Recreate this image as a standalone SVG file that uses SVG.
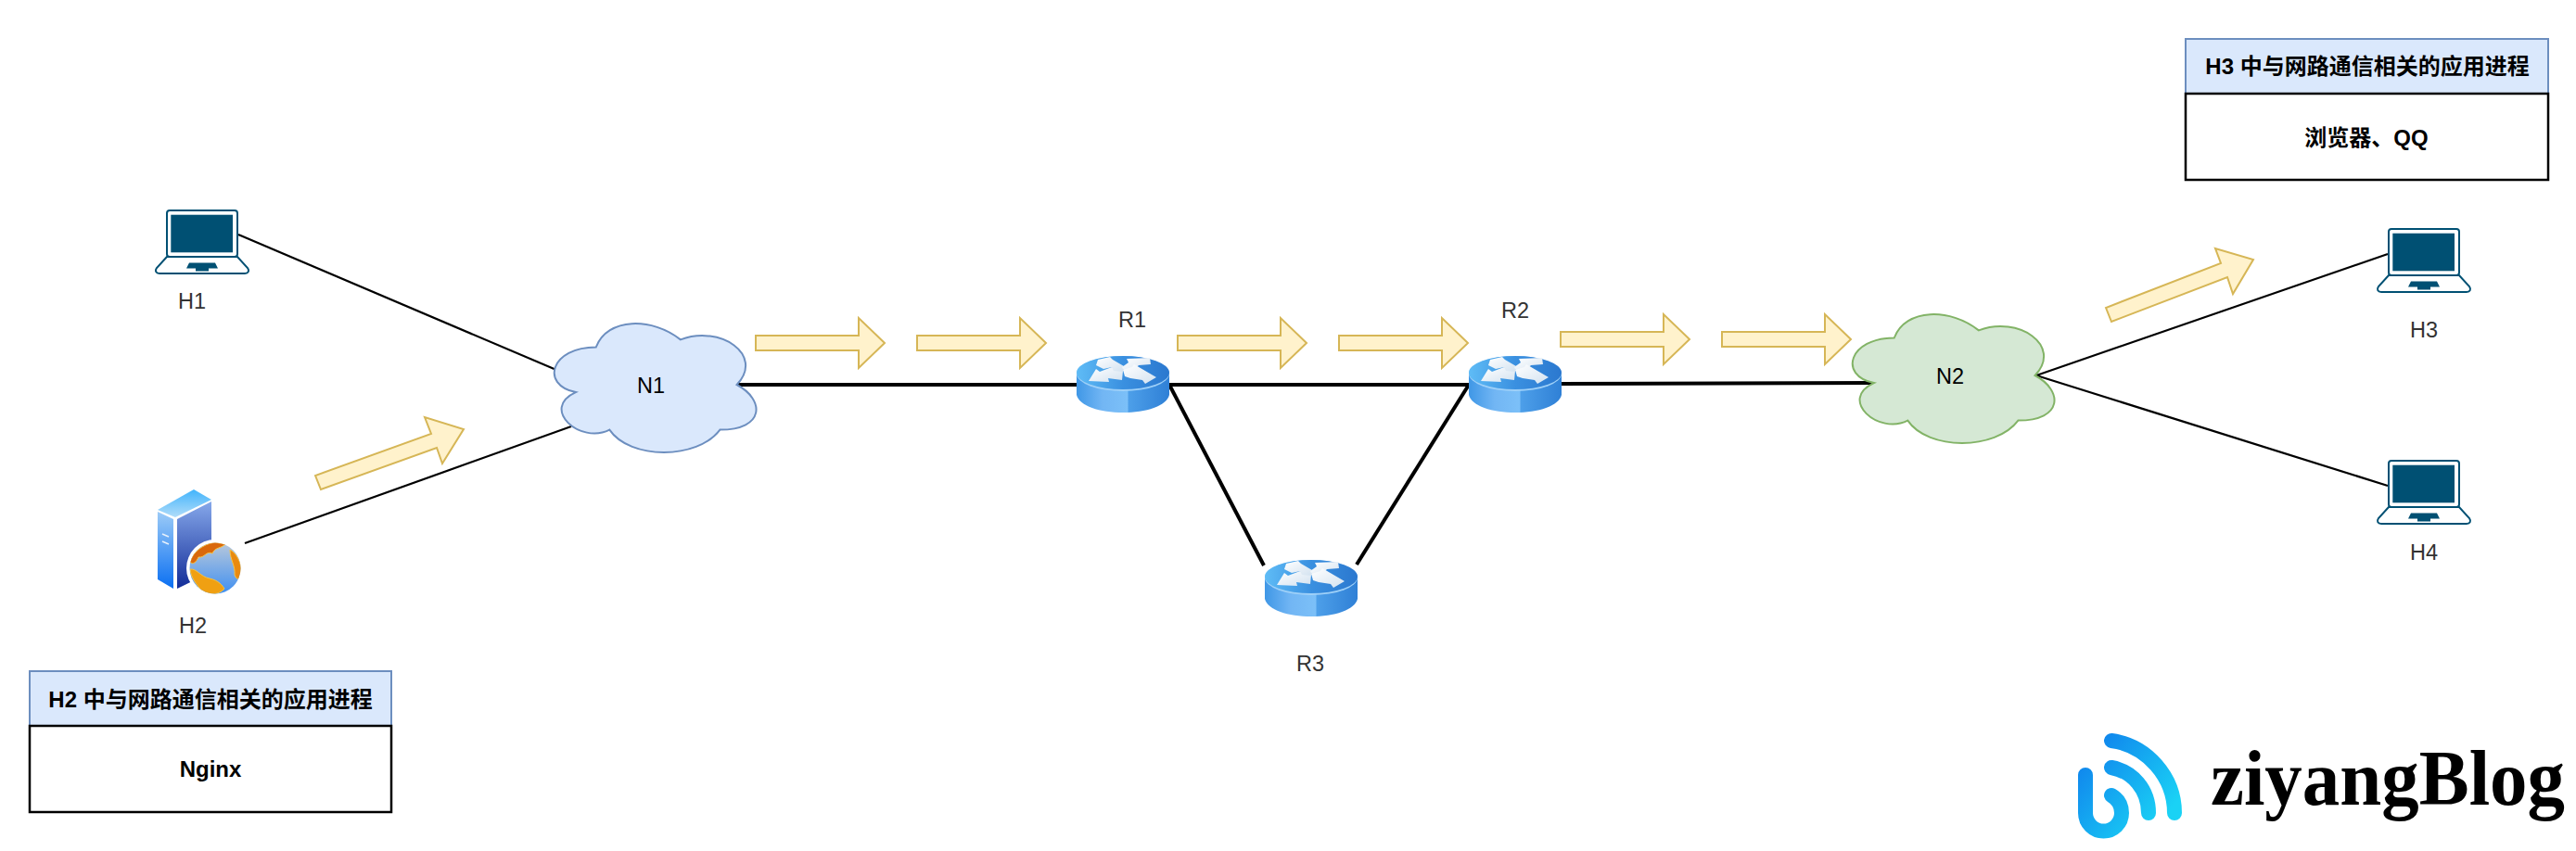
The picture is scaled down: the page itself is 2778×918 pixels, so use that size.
<svg xmlns="http://www.w3.org/2000/svg" width="2778" height="918" viewBox="0 0 2778 918">
<style>
text{font-family:"Liberation Sans","Noto Sans CJK SC",sans-serif;text-anchor:middle}
.lb{font-size:23.5px;fill:#333}
.nt{font-size:23.5px;fill:#000}
.tb{font-size:24px;font-weight:bold;fill:#000}
.thin{stroke:#000;stroke-width:2.2;fill:none}
.thick{stroke:#000;stroke-width:4;fill:none}
.flow{fill:#fff2cc;stroke:#d6b656;stroke-width:2}
.head{fill:#dae8fc;stroke:#6c8ebf;stroke-width:2}
.body{fill:#fff;stroke:#000;stroke-width:2.5}
.lap{fill:#fff;stroke:#005073;stroke-width:2}
.scr{fill:#005073}
.logo{fill:none;stroke:url(#lg);stroke-width:16;stroke-linecap:round}
</style>
<defs>
<path id="cloud" d="M60.75 40.5C12.15 40.5 0 81 38.88 89.1C0 106.92 43.74 145.8 75.33 129.6C97.2 162 170.1 162 194.4 129.6C243 129.6 243 97.2 212.6 81C243 48.6 194.4 16.2 151.9 32.4C121.5 8.1 72.9 8.1 60.75 40.5Z"/>
<path id="flowh" d="M0 -8H111V-27L139 0L111 27V8H0Z"/>
<linearGradient id="rSide" x1="0" x2="1" y1="0" y2="0"><stop offset="0" stop-color="#3f97e6"/><stop offset=".28" stop-color="#72b6f4"/><stop offset=".55" stop-color="#7cc0f8"/><stop offset=".56" stop-color="#4d9fe9"/><stop offset="1" stop-color="#2f80d6"/></linearGradient>
<linearGradient id="rTop" x1="0" x2="1" y1="0" y2="0"><stop offset="0" stop-color="#5fbcf6"/><stop offset=".5" stop-color="#3a90e0"/><stop offset="1" stop-color="#2b78cf"/></linearGradient>
<linearGradient id="rArr" x1="0" x2="1" y1="0" y2="1"><stop offset="0" stop-color="#fff"/><stop offset="1" stop-color="#d3e2f0"/></linearGradient>
<g id="router">
<path d="M0 18V42C3 54 25 61 50 61C75 61 97 54 100 42V18Z" fill="url(#rSide)"/>
<ellipse cx="50" cy="19" rx="50" ry="19" fill="#9ed0f8"/>
<ellipse cx="50" cy="18" rx="50" ry="18" fill="url(#rTop)"/>
<g fill="url(#rArr)">
<polygon points="13,27 21,14 25,17 38,12 50,16 49,26 34,24 35,28"/>
<polygon points="23,4 36,1 39,4 51,11 50,17 40,16 38,12 29,14 21,10"/>
<polygon points="49,12 56,7 54,3 79,2 80,9 67,10 63,14 52,18"/>
<polygon points="50,15 60,12 62,9 86,23 74,30 71,26 58,24 52,22"/>
</g>
</g>
<g id="laptop">
<path class="lap" d="M12 50L1 62C-1 65 0 68 4 68H96C100 68 101 65 99 62L88 50Z"/>
<rect class="lap" x="12" y="0" width="76" height="50" rx="3"/>
<rect class="scr" x="16.3" y="4.7" width="66.7" height="40.6"/>
<path class="scr" d="M36 56.5H64L67 62.5H57V65.5H43V62.5H33Z"/>
</g>
<linearGradient id="lg" gradientUnits="userSpaceOnUse" x1="2245" y1="805" x2="2335" y2="880"><stop offset="0" stop-color="#0f7fec"/><stop offset="1" stop-color="#1ad2f5"/></linearGradient>
<linearGradient id="sL" x1="0" x2="0" y1="0" y2="1"><stop offset="0" stop-color="#9ccbf7"/><stop offset="1" stop-color="#0a6ff2"/></linearGradient>
<linearGradient id="sR" x1="0" x2="0" y1="0" y2="1"><stop offset="0" stop-color="#86a8ea"/><stop offset="1" stop-color="#122c98"/></linearGradient>
<linearGradient id="sT" x1="0" x2="0" y1="0" y2="1"><stop offset="0" stop-color="#42b4fc"/><stop offset="1" stop-color="#b0dcf9"/></linearGradient>
<linearGradient id="gl" x1="0" x2="0" y1="0" y2="1"><stop offset="0" stop-color="#b8c8dc"/><stop offset="1" stop-color="#3f8ff0"/></linearGradient>
<clipPath id="gc"><circle cx="232" cy="613" r="27.5"/></clipPath>
</defs>
<rect width="2778" height="918" fill="#fff"/>
<g id="connectors">
<line class="thin" x1="257" y1="253" x2="600" y2="399"/>
<line class="thin" x1="264" y1="586" x2="616" y2="460"/>
<line class="thick" x1="793" y1="415" x2="1161" y2="415"/>
<line class="thick" x1="1261" y1="415" x2="1584" y2="415"/>
<line class="thick" x1="1261" y1="415" x2="1363" y2="610"/>
<line class="thick" x1="1463" y1="609" x2="1584" y2="415"/>
<line class="thick" x1="1684" y1="414" x2="2022" y2="413"/>
<line class="thin" x1="2196" y1="405" x2="2575" y2="274"/>
<line class="thin" x1="2196" y1="405" x2="2575" y2="524"/>
</g>
<g id="flows">
<polygon class="flow" points="340,513 346,528 471,483 477,500 500,463 458,450 465,468"/>
<use class="flow" href="#flowh" x="815" y="370"/>
<use class="flow" href="#flowh" x="989" y="370"/>
<use class="flow" href="#flowh" x="1270" y="370"/>
<use class="flow" href="#flowh" x="1444" y="370"/>
<use class="flow" href="#flowh" x="1683" y="366"/>
<use class="flow" href="#flowh" x="1857" y="366"/>
<polygon class="flow" points="2271,332 2277,347 2402,299 2408,317 2430,280 2389,268 2395,284"/>
</g>
<g id="H1"><use href="#laptop" x="168" y="227"/><text class="lb" x="207" y="333">H1</text></g>
<g id="H2">
<polygon points="170,550 209,528 228,539 189,558" fill="url(#sT)"/>
<polygon points="170,552 187,560 187,635 170,625" fill="url(#sL)"/>
<polygon points="191,560 228,541 228,617 191,635" fill="url(#sR)"/>
<path d="M175 576L182 579M175 584L182 587" stroke="#e6f0fc" stroke-width="1.5" fill="none"/>
<circle cx="232" cy="613" r="31" fill="#fff"/>
<circle cx="232" cy="613" r="27.5" fill="url(#gl)"/>
<g clip-path="url(#gc)" stroke="#f7c244" stroke-width="1">
<path d="M205 606C208 596 218 587 232 585L243 587C238 592 232 590 229 597C222 594 221 602 214 601C212 606 208 610 205 606Z" fill="#d9680c"/>
<path d="M248 593C254 596 261 606 260 618C258 626 255 626 253 620C254 610 248 604 248 593Z" fill="#e88a10"/>
<path d="M205 614C212 613 216 622 226 624C236 626 240 632 242 635C236 642 226 642 218 638C212 630 206 624 205 614Z" fill="#f0a012"/>
</g>
<text class="lb" x="208" y="683">H2</text>
</g>
<g id="N1"><use href="#cloud" x="582" y="334" fill="#dae8fc" stroke="#6c8ebf" stroke-width="2"/><text class="nt" x="702" y="424">N1</text></g>
<g id="R1"><use href="#router" x="1161" y="384"/><text class="lb" x="1221" y="353">R1</text></g>
<g id="R2"><use href="#router" x="1584" y="384"/><text class="lb" x="1634" y="343">R2</text></g>
<g id="R3"><use href="#router" x="1364" y="604"/><text class="lb" x="1413" y="724">R3</text></g>
<g id="N2"><use href="#cloud" x="1982" y="324" fill="#d5e8d4" stroke="#82b366" stroke-width="2"/><text class="nt" x="2103" y="414">N2</text></g>
<g id="H3"><use href="#laptop" x="2564" y="247"/><text class="lb" x="2614" y="364">H3</text></g>
<g id="H4"><use href="#laptop" x="2564" y="497"/><text class="lb" x="2614" y="604">H4</text></g>
<g id="table-H2">
<rect class="head" x="32" y="724" width="390" height="59"/>
<rect class="body" x="32" y="783" width="390" height="93"/>
<text class="tb" x="227" y="763">H2 中与网路通信相关的应用进程</text>
<text class="tb" x="227" y="838">Nginx</text>
</g>
<g id="table-H3">
<rect class="head" x="2357" y="42" width="391" height="59"/>
<rect class="body" x="2357" y="101" width="391" height="93"/>
<text class="tb" x="2553" y="80">H3 中与网路通信相关的应用进程</text>
<text class="tb" x="2552" y="157">浏览器、QQ</text>
</g>
<g id="logo">
<path class="logo" d="M2249 836V877A19.5 19.5 0 0 0 2288 877C2288 868 2284 862 2277 858"/>
<path class="logo" d="M2277 828C2300 832 2317 852 2317 877"/>
<path class="logo" d="M2277 799C2315 804 2345 838 2345 877"/>
<text x="2384" y="868" style="text-anchor:start;font-family:'Liberation Serif',serif;font-weight:bold;font-size:84px" fill="#000" textLength="382" lengthAdjust="spacingAndGlyphs">ziyangBlog</text>
</g>
</svg>
